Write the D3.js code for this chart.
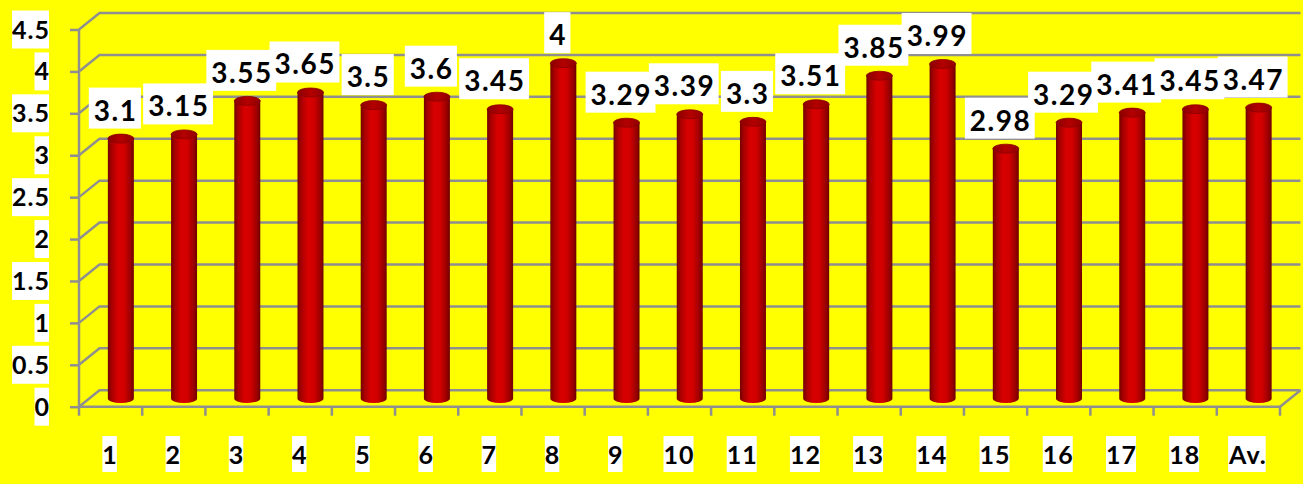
<!DOCTYPE html>
<html><head><meta charset="utf-8">
<script src="https://cdn.jsdelivr.net/npm/d3@7/dist/d3.min.js"></script>
<style>
html,body{margin:0;padding:0;background:#ffff00;}
svg{display:block;}
text{font-family:Lato,"Open Sans",sans-serif;font-weight:700;fill:#000;}
</style></head>
<body>
<svg id="chart" width="1303" height="484"></svg>
<script>
const categories = ["1","2","3","4","5","6","7","8","9","10","11","12","13","14","15","16","17","18","Av."];
const values = [3.1,3.15,3.55,3.65,3.5,3.6,3.45,4,3.29,3.39,3.3,3.51,3.85,3.99,2.98,3.29,3.41,3.45,3.47];
const valueLabels = ["3.1","3.15","3.55","3.65","3.5","3.6","3.45","4","3.29","3.39","3.3","3.51","3.85","3.99","2.98","3.29","3.41","3.45","3.47"];
const yTicks = [0,0.5,1,1.5,2,2.5,3,3.5,4,4.5];
const yTickLabels = ["0","0.5","1","1.5","2","2.5","3","3.5","4","4.5"];

const W = 1303, H = 484;
const svg = d3.select("#chart");
const gray = "#8f8f8f";
const DX = 20.5, DY = -16.5;

const x = d3.scaleBand().domain(categories).range([79, 1280]).padding(0);
const y = d3.scaleLinear().domain([0, 4.5]).range([406.7, 29.5]);

const defs = svg.append("defs");
const g1 = defs.append("linearGradient").attr("id","cyl").attr("x1","0").attr("x2","1").attr("y1","0").attr("y2","0");
[[0,"#720000"],[0.15,"#a80000"],[0.4,"#d80000"],[0.62,"#d20000"],[0.85,"#a00000"],[1,"#700000"]]
  .forEach(s=>g1.append("stop").attr("offset",s[0]).attr("stop-color",s[1]));
const g2 = defs.append("linearGradient").attr("id","cap").attr("x1","0").attr("x2","1").attr("y1","0").attr("y2","0");
[[0,"#8a0000"],[0.5,"#b40000"],[1,"#900000"]]
  .forEach(s=>g2.append("stop").attr("offset",s[0]).attr("stop-color",s[1]));

const x0 = x.range()[0], x1 = x.range()[1];

const grid = svg.append("g").attr("stroke", gray).attr("stroke-width", 2.5).attr("fill","none");
yTicks.forEach(t => {
  const yy = y(t);
  grid.append("path").attr("d", `M${x0},${yy} L${x0+DX},${yy+DY} L${x1+DX},${yy+DY}`);
});
grid.append("path").attr("d", `M${x1},${y(0)} L${x1+DX},${y(0)+DY}`);

const yAxis = d3.axisLeft(y).tickValues(yTicks).tickSize(9).tickFormat("");
const yg = svg.append("g").attr("transform", `translate(${x0},0)`).call(yAxis);
yg.selectAll("path,line").attr("stroke", gray).attr("stroke-width", 2.5);
yg.select(".domain").attr("d", `M0,${y(4.5)}V${y(0)}`);

const xa = svg.append("g").attr("stroke", gray).attr("stroke-width", 2.5);
xa.append("line").attr("x1", x0).attr("x2", x1).attr("y1", y(0)).attr("y2", y(0));
const edges = categories.map(c => x(c)).concat([x1]);
xa.selectAll("line.tk").data(edges).join("line").attr("class","tk")
  .attr("x1", d=>d).attr("x2", d=>d).attr("y1", y(0)).attr("y2", y(0)+9);

const bw = 26, rx = bw/2, ry = 4.5;
const mdx = DX/2, mdy = DY/2;
const bars = svg.append("g");
categories.forEach((c,i) => {
  const cx = x(c) + x.bandwidth()/2 + mdx;
  const yb = y(0) + mdy;
  const yt = y(values[i]) + mdy;
  bars.append("path")
    .attr("d", `M${cx-rx},${yt} L${cx-rx},${yb} A${rx},${ry} 0 0 0 ${cx+rx},${yb} L${cx+rx},${yt} Z`)
    .attr("fill", "url(#cyl)");
  bars.append("ellipse").attr("cx", cx).attr("cy", yt).attr("rx", rx).attr("ry", ry)
    .attr("fill", "url(#cap)").attr("stroke","#8a0000").attr("stroke-width",0.8);
});

const boxLayer = svg.append("g");
const textLayer = svg.append("g");
function boxedText(tx, ty, anchor, size, spacing, str, padX, boxTop, boxH) {
  const shift = anchor === "middle" ? spacing/2 : (anchor === "end" ? spacing : 0);
  const txt = textLayer.append("text").attr("x", tx + shift).attr("y", ty).attr("text-anchor", anchor)
    .style("font-size", size + "px").style("letter-spacing", spacing + "px").text(str);
  const bb = txt.node().getBBox();
  boxLayer.append("rect").attr("x", bb.x - padX).attr("width", bb.width - spacing + 2*padX)
    .attr("y", boxTop).attr("height", boxH).attr("fill","#fff");
}

yTicks.forEach((t,i) => {
  boxedText(49, y(t) + 9, "end", 25, 1, yTickLabels[i], 0, y(t) - 19, 38);
});

categories.forEach(c => {
  const cx = x(c) + x.bandwidth()/2 - 1;
  boxedText(cx, 464, "middle", 25, 1, c, 0, 436, 36);
});

categories.forEach((c,i) => {
  const cx = x(c) + x.bandwidth()/2 + mdx - 6;
  const base = y(values[i]) + mdy - 18;
  boxedText(cx, base, "middle", 28, 1.5, valueLabels[i], 5, base - 33, 41);
});
</script>
</body></html>
